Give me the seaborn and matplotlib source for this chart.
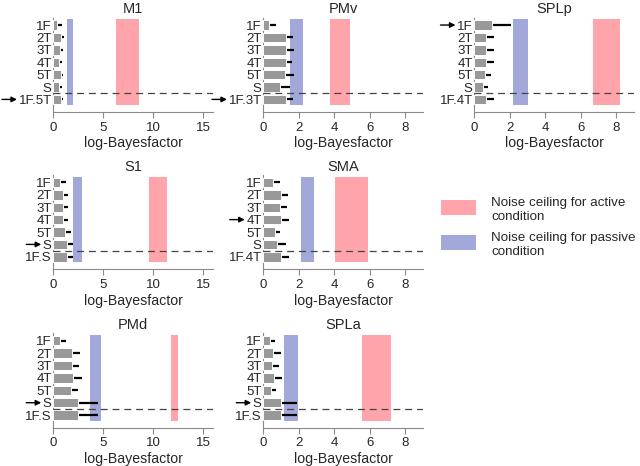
import matplotlib
matplotlib.use("Agg")
import matplotlib.pyplot as plt
from matplotlib.patches import Rectangle
import seaborn as sns

# data
regions = ['M1', 'PMv', 'SPLp', 'S1', 'SMA', 'PMd', 'SPLa']
last_model = ['1F.5T', '1F.3T', '1F.4T', '1F.S', '1F.4T', '1F.S', '1F.S']
base_models = ['1F', '2T', '3T', '4T', '5T', 'S']

vals_m1 = [0.40, 0.75, 0.70, 0.62, 0.78, 0.62, 0.78]
vals_pmv = [0.34, 1.28, 1.28, 1.28, 1.24, 0.94, 1.28]
vals_splp = [1.02, 0.70, 0.70, 0.70, 0.60, 0.50, 0.70]
vals_s1 = [0.67, 1.00, 1.00, 1.00, 1.20, 1.40, 1.40]
vals_sma = [0.55, 1.00, 0.96, 1.04, 0.70, 0.81, 1.04]
vals_pmd = [0.74, 1.88, 1.88, 1.95, 1.78, 2.48, 2.48]
vals_spla = [0.38, 0.56, 0.53, 0.60, 0.47, 1.00, 1.00]

err_m1 = [0.52, 0.30, 0.30, 0.30, 0.22, 0.30, 0.22]
err_pmv = [0.37, 0.41, 0.44, 0.37, 0.48, 0.56, 0.41]
err_splp = [1.05, 0.41, 0.41, 0.45, 0.36, 0.31, 0.41]
err_s1 = [0.60, 0.53, 0.53, 0.50, 0.60, 0.60, 0.60]
err_sma = [0.38, 0.42, 0.38, 0.42, 0.23, 0.49, 0.45]
err_pmd = [0.60, 0.80, 0.74, 0.90, 0.67, 2.02, 2.02]
err_spla = [0.30, 0.44, 0.37, 0.45, 0.28, 0.91, 0.91]

# noise ceilings (lower, upper)
nc_passive = [(1.41, 1.97), (1.50, 2.25), (2.17, 3.01), (1.97, 2.87),
              (2.15, 2.89), (3.69, 4.77), (1.16, 1.95)]
nc_active = [(6.30, 8.60), (3.75, 4.92), (6.72, 8.19), (9.63, 11.40),
             (4.06, 5.88), (11.78, 12.52), (5.55, 7.19)]

best_model = [6, 6, 0, 5, 3, 5, 5]
xmax = [16, 9, 9, 16, 9, 16, 9]
xticks_wide = [0, 5, 10, 15]
xticks_narrow = [0, 2, 4, 6, 8]

legend_labels = ['Noise ceiling for active\ncondition',
                 'Noise ceiling for passive\ncondition']

all_vals = [vals_m1, vals_pmv, vals_splp, vals_s1, vals_sma, vals_pmd, vals_spla]
all_errs = [err_m1, err_pmv, err_splp, err_s1, err_sma, err_pmd, err_spla]
grid_pos = [(0, 0), (0, 1), (0, 2), (1, 0), (1, 1), (2, 0), (2, 1)]

red = '#ffa4aa'
blue = '#a2a8d9'
grey = '#999999'
spine_col = '#8a8a8a'

sns.set_theme(style='white')
plt.rcParams['font.family'] = ['Liberation Sans', 'DejaVu Sans']
plt.rcParams['lines.scale_dashes'] = False

W, H = 640, 466
fig = plt.figure(figsize=(6.4, 4.66), dpi=100)

col_left = [53, 263, 474]
row_top = [17.6, 175.0, 333.3]
ax_w, ax_h = 160, 94.2

axes = []
for i, reg in enumerate(regions):
    r, c = grid_pos[i]
    ax = fig.add_axes([col_left[c] / W, 1 - (row_top[r] + ax_h) / H, ax_w / W, ax_h / H])
    labels = base_models + [last_model[i]]
    sns.barplot(x=all_vals[i], y=labels, ax=ax, color=grey, orient='h',
                width=0.76, saturation=1, edgecolor='white', linewidth=0.7, zorder=3)
    ypos = list(range(len(labels)))
    ax.errorbar(all_vals[i], ypos, xerr=[[0] * 7, all_errs[i]], fmt='none',
                ecolor='black', elinewidth=1.6, capsize=0, zorder=2)
    ax.fill_betweenx([-0.45, 6.45], nc_passive[i][0], nc_passive[i][1],
                     color=blue, lw=0, zorder=1)
    ax.fill_betweenx([-0.45, 6.45], nc_active[i][0], nc_active[i][1],
                     color=red, lw=0, zorder=1)
    ax.axhline(5.5, color='#444444', lw=0.9, ls=(0, (5, 3.5)), zorder=5)
    ax.set_xlim(0, xmax[i])
    ax.set_ylim(7.0, -0.6)
    ax.set_xticks(xticks_wide if xmax[i] > 10 else xticks_narrow)
    ax.set_xlabel('log-Bayesfactor', fontsize=10.2, labelpad=2)
    ax.set_ylabel('')
    ax.set_title(reg, fontsize=10.5, pad=3)
    sns.despine(ax=ax)
    for s in ['left', 'bottom']:
        ax.spines[s].set_color(spine_col)
        ax.spines[s].set_linewidth(0.8)
    ax.tick_params(axis='x', length=4, width=0.8, color=spine_col, labelsize=9.5, pad=3, bottom=True)
    ax.tick_params(axis='y', length=0, labelsize=9.5, pad=1)
    axes.append(ax)

# arrows pointing at the winning model
fig.canvas.draw()
renderer = fig.canvas.get_renderer()
for i, ax in enumerate(axes):
    bb = ax.get_yticklabels()[best_model[i]].get_window_extent(renderer)
    x_end = bb.x0 - 1.5
    ax.annotate('', xy=(x_end, best_model[i]), xytext=(x_end - 15, best_model[i]),
                xycoords=('figure pixels', 'data'), textcoords=('figure pixels', 'data'),
                arrowprops=dict(arrowstyle='-|>', color='black', lw=1.0,
                                mutation_scale=8, shrinkA=0, shrinkB=0),
                annotation_clip=False)

# legend drawn by hand so the swatches sit like in the original
leg_colors = [red, blue]
leg_top = [200, 235]
for col, top, lab in zip(leg_colors, leg_top, legend_labels):
    fig.patches.append(Rectangle((441 / W, 1 - (top + 14.5) / H), 35 / W, 14.5 / H,
                                 transform=fig.transFigure, facecolor=col,
                                 edgecolor='none'))
    fig.text(491 / W, 1 - (top - 3) / H, lab, fontsize=9.6, va='top', ha='left',
             linespacing=1.2)

fig.savefig('out.png', dpi=100)
